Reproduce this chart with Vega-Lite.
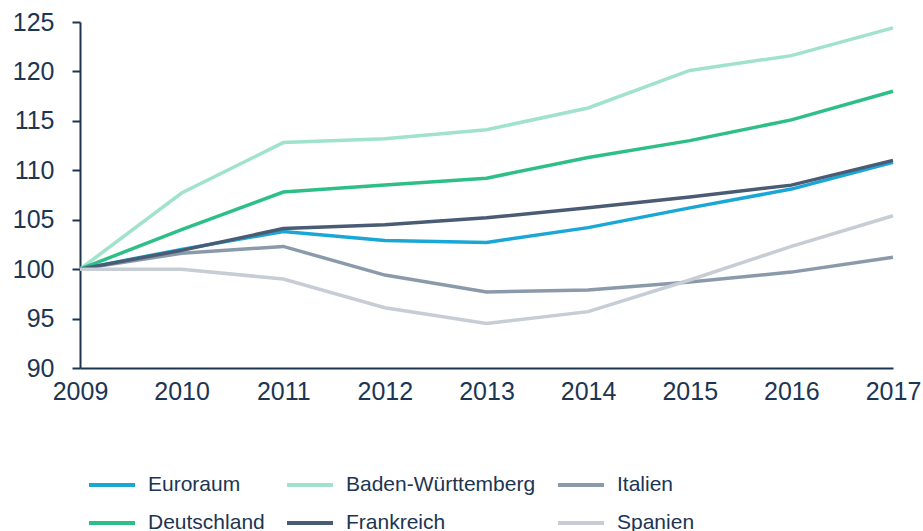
{
  "$schema": "https://vega.github.io/schema/vega-lite/v6.json",
  "width": 813,
  "height": 346,
  "autosize": "none",
  "padding": {"left": 80, "top": 22, "right": 30, "bottom": 163},
  "background": "white",
  "config": {
    "view": {"stroke": null},
    "font": "Liberation Sans",
    "axis": {"grid": false, "domainColor": "#1c3553", "tickColor": "#1c3553", "labelColor": "#1c3553", "labelFont": "Liberation Sans", "labelFontSize": 25, "domainWidth": 2, "tickWidth": 2, "titleFontSize": 0}
  },
  "data": {
    "values": [
      {"year": 2009, "land": "Euroraum", "v": 100},
      {"year": 2010, "land": "Euroraum", "v": 102.0},
      {"year": 2011, "land": "Euroraum", "v": 103.8},
      {"year": 2012, "land": "Euroraum", "v": 102.9},
      {"year": 2013, "land": "Euroraum", "v": 102.7},
      {"year": 2014, "land": "Euroraum", "v": 104.2},
      {"year": 2015, "land": "Euroraum", "v": 106.2},
      {"year": 2016, "land": "Euroraum", "v": 108.1},
      {"year": 2017, "land": "Euroraum", "v": 110.8},
      {"year": 2009, "land": "Baden-Württemberg", "v": 100},
      {"year": 2010, "land": "Baden-Württemberg", "v": 107.7},
      {"year": 2011, "land": "Baden-Württemberg", "v": 112.8},
      {"year": 2012, "land": "Baden-Württemberg", "v": 113.2},
      {"year": 2013, "land": "Baden-Württemberg", "v": 114.1},
      {"year": 2014, "land": "Baden-Württemberg", "v": 116.3},
      {"year": 2015, "land": "Baden-Württemberg", "v": 120.1},
      {"year": 2016, "land": "Baden-Württemberg", "v": 121.6},
      {"year": 2017, "land": "Baden-Württemberg", "v": 124.4},
      {"year": 2009, "land": "Italien", "v": 100},
      {"year": 2010, "land": "Italien", "v": 101.6},
      {"year": 2011, "land": "Italien", "v": 102.3},
      {"year": 2012, "land": "Italien", "v": 99.4},
      {"year": 2013, "land": "Italien", "v": 97.7},
      {"year": 2014, "land": "Italien", "v": 97.9},
      {"year": 2015, "land": "Italien", "v": 98.7},
      {"year": 2016, "land": "Italien", "v": 99.7},
      {"year": 2017, "land": "Italien", "v": 101.2},
      {"year": 2009, "land": "Deutschland", "v": 100},
      {"year": 2010, "land": "Deutschland", "v": 104.0},
      {"year": 2011, "land": "Deutschland", "v": 107.8},
      {"year": 2012, "land": "Deutschland", "v": 108.5},
      {"year": 2013, "land": "Deutschland", "v": 109.2},
      {"year": 2014, "land": "Deutschland", "v": 111.3},
      {"year": 2015, "land": "Deutschland", "v": 113.0},
      {"year": 2016, "land": "Deutschland", "v": 115.1},
      {"year": 2017, "land": "Deutschland", "v": 118.0},
      {"year": 2009, "land": "Frankreich", "v": 100},
      {"year": 2010, "land": "Frankreich", "v": 101.9},
      {"year": 2011, "land": "Frankreich", "v": 104.1},
      {"year": 2012, "land": "Frankreich", "v": 104.5},
      {"year": 2013, "land": "Frankreich", "v": 105.2},
      {"year": 2014, "land": "Frankreich", "v": 106.2},
      {"year": 2015, "land": "Frankreich", "v": 107.3},
      {"year": 2016, "land": "Frankreich", "v": 108.5},
      {"year": 2017, "land": "Frankreich", "v": 111.0},
      {"year": 2009, "land": "Spanien", "v": 100},
      {"year": 2010, "land": "Spanien", "v": 100.0},
      {"year": 2011, "land": "Spanien", "v": 99.0},
      {"year": 2012, "land": "Spanien", "v": 96.1},
      {"year": 2013, "land": "Spanien", "v": 94.5},
      {"year": 2014, "land": "Spanien", "v": 95.7},
      {"year": 2015, "land": "Spanien", "v": 98.9},
      {"year": 2016, "land": "Spanien", "v": 102.3},
      {"year": 2017, "land": "Spanien", "v": 105.4}
    ]
  },
  "mark": {"type": "line", "strokeWidth": 3.5, "clip": false},
  "encoding": {
    "x": {
      "field": "year", "type": "quantitative",
      "scale": {"domain": [2009, 2017], "nice": false, "zero": false},
      "axis": {"values": [2009, 2010, 2011, 2012, 2013, 2014, 2015, 2016, 2017], "format": "d", "ticks": false, "labelPadding": 11, "title": null, "labelFlush": false}
    },
    "y": {
      "field": "v", "type": "quantitative",
      "scale": {"domain": [90, 125], "nice": false, "zero": false},
      "axis": {"values": [90, 95, 100, 105, 110, 115, 120, 125], "tickSize": 8, "labelPadding": 18, "title": null}
    },
    "color": {
      "field": "land", "type": "nominal",
      "scale": {
        "domain": ["Euroraum", "Baden-Württemberg", "Italien", "Deutschland", "Frankreich", "Spanien"],
        "range": ["#1aa7d6", "#a0e2ca", "#8b9aab", "#2ebf89", "#4a5b74", "#c6cdd5"]
      },
      "legend": {
        "orient": "none", "direction": "horizontal", "legendX": 7, "legendY": 438, "columns": 3, "title": null,
        "symbolType": "stroke", "symbolSize": 2116, "symbolStrokeWidth": 4,
        "labelFontSize": 21, "labelColor": "#1c3553", "labelOffset": 11, "labelLimit": 300,
        "columnPadding": 14, "rowPadding": 3
      }
    }
  }
}
